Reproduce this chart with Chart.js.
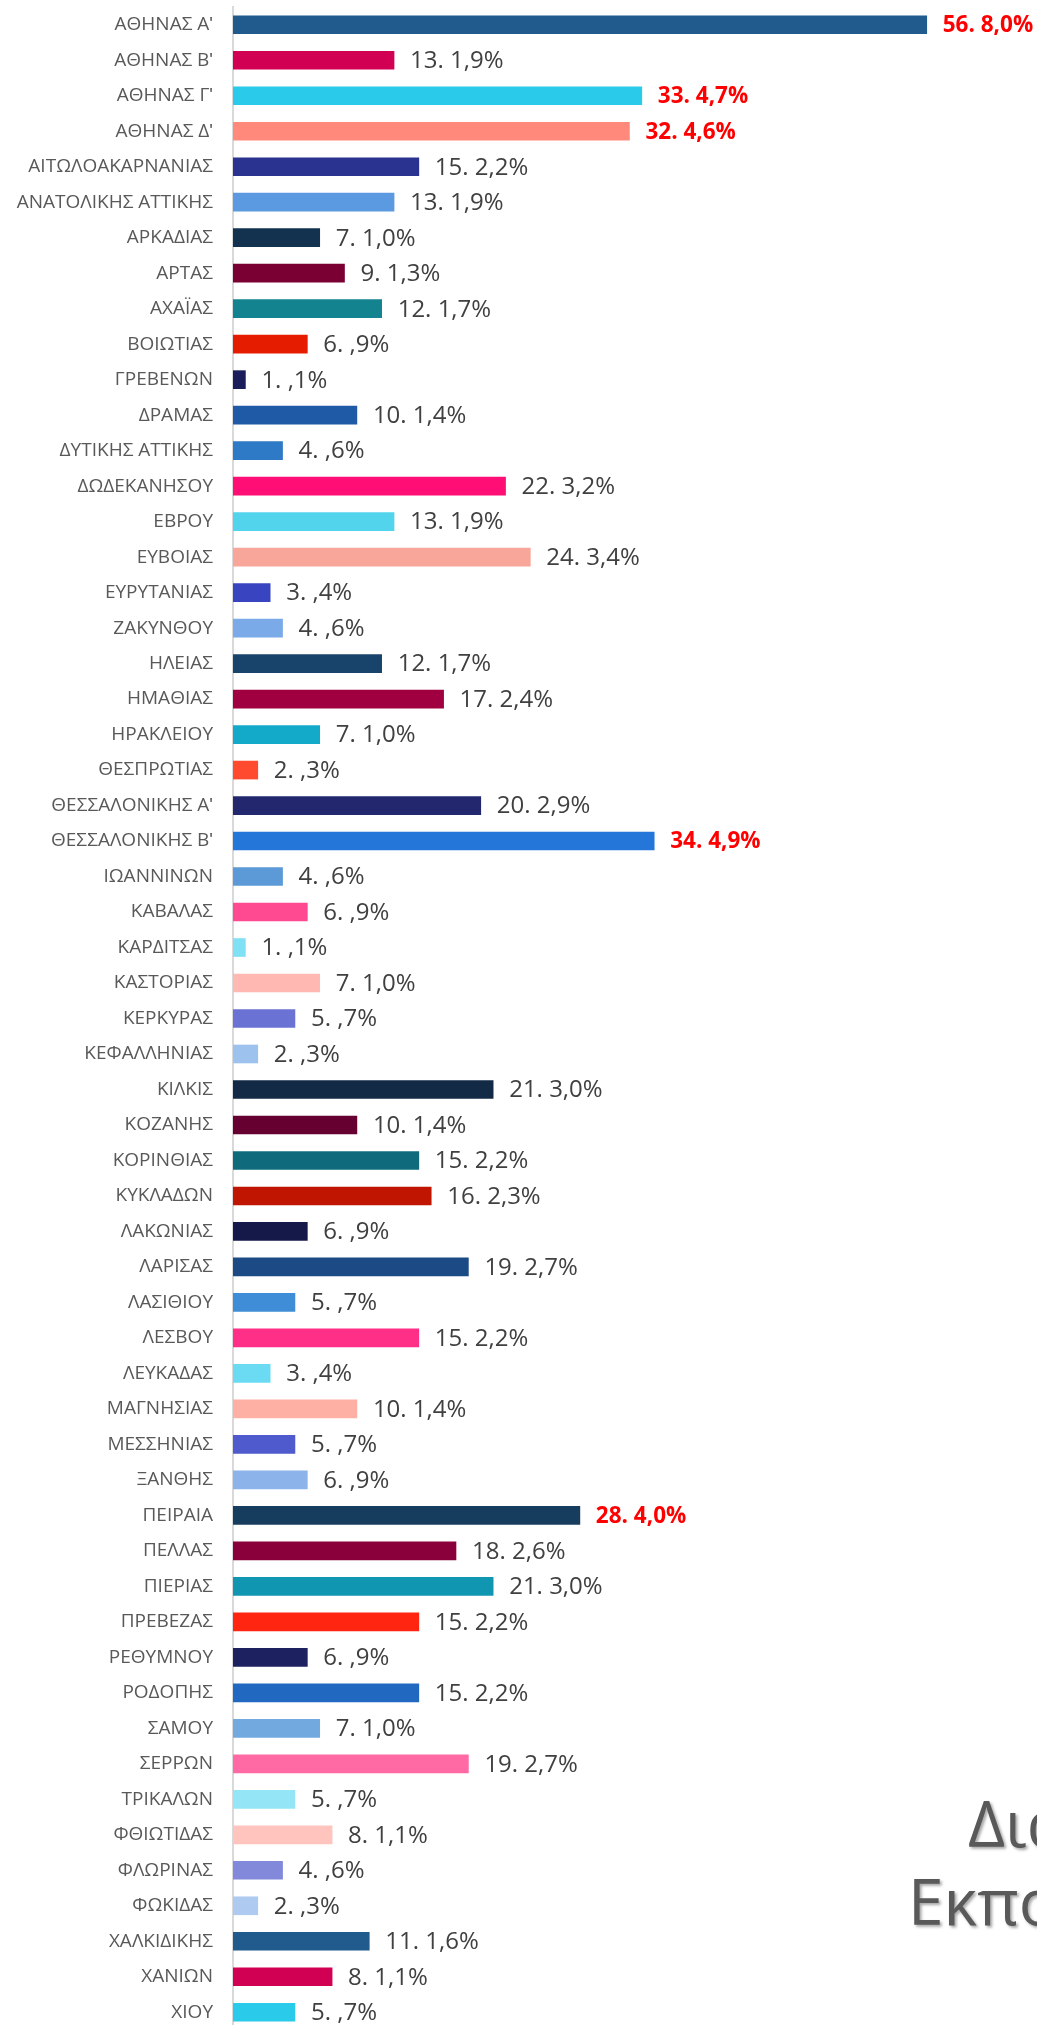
<!DOCTYPE html>
<html>
<head>
<meta charset="utf-8">
<script src="https://cdn.jsdelivr.net/npm/chart.js@4.4.1/dist/chart.umd.min.js"></script>
<style>
html,body{margin:0;padding:0;background:#fff;overflow:hidden;width:1037px;height:2025px;}
#wrap{position:relative;width:1037px;height:2030px;}
canvas{display:block;}
</style>
</head>
<body>
<div id="wrap"><canvas id="c" width="1037" height="2030"></canvas></div>
<script>
const categories = ["ΑΘΗΝΑΣ Αʹ","ΑΘΗΝΑΣ Βʹ","ΑΘΗΝΑΣ Γʹ","ΑΘΗΝΑΣ Δʹ","ΑΙΤΩΛΟΑΚΑΡΝΑΝΙΑΣ","ΑΝΑΤΟΛΙΚΗΣ ΑΤΤΙΚΗΣ","ΑΡΚΑΔΙΑΣ","ΑΡΤΑΣ","ΑΧΑΪΑΣ","ΒΟΙΩΤΙΑΣ","ΓΡΕΒΕΝΩΝ","ΔΡΑΜΑΣ","ΔΥΤΙΚΗΣ ΑΤΤΙΚΗΣ","ΔΩΔΕΚΑΝΗΣΟΥ","ΕΒΡΟΥ","ΕΥΒΟΙΑΣ","ΕΥΡΥΤΑΝΙΑΣ","ΖΑΚΥΝΘΟΥ","ΗΛΕΙΑΣ","ΗΜΑΘΙΑΣ","ΗΡΑΚΛΕΙΟΥ","ΘΕΣΠΡΩΤΙΑΣ","ΘΕΣΣΑΛΟΝΙΚΗΣ Αʹ","ΘΕΣΣΑΛΟΝΙΚΗΣ Βʹ","ΙΩΑΝΝΙΝΩΝ","ΚΑΒΑΛΑΣ","ΚΑΡΔΙΤΣΑΣ","ΚΑΣΤΟΡΙΑΣ","ΚΕΡΚΥΡΑΣ","ΚΕΦΑΛΛΗΝΙΑΣ","ΚΙΛΚΙΣ","ΚΟΖΑΝΗΣ","ΚΟΡΙΝΘΙΑΣ","ΚΥΚΛΑΔΩΝ","ΛΑΚΩΝΙΑΣ","ΛΑΡΙΣΑΣ","ΛΑΣΙΘΙΟΥ","ΛΕΣΒΟΥ","ΛΕΥΚΑΔΑΣ","ΜΑΓΝΗΣΙΑΣ","ΜΕΣΣΗΝΙΑΣ","ΞΑΝΘΗΣ","ΠΕΙΡΑΙΑ","ΠΕΛΛΑΣ","ΠΙΕΡΙΑΣ","ΠΡΕΒΕΖΑΣ","ΡΕΘΥΜΝΟΥ","ΡΟΔΟΠΗΣ","ΣΑΜΟΥ","ΣΕΡΡΩΝ","ΤΡΙΚΑΛΩΝ","ΦΘΙΩΤΙΔΑΣ","ΦΛΩΡΙΝΑΣ","ΦΩΚΙΔΑΣ","ΧΑΛΚΙΔΙΚΗΣ","ΧΑΝΙΩΝ","ΧΙΟΥ"];
const counts = [56,13,33,32,15,13,7,9,12,6,1,10,4,22,13,24,3,4,12,17,7,2,20,34,4,6,1,7,5,2,21,10,15,16,6,19,5,15,3,10,5,6,28,18,21,15,6,15,7,19,5,8,4,2,11,8,5];
const percents = ["8,0%","1,9%","4,7%","4,6%","2,2%","1,9%","1,0%","1,3%","1,7%",",9%",",1%","1,4%",",6%","3,2%","1,9%","3,4%",",4%",",6%","1,7%","2,4%","1,0%",",3%","2,9%","4,9%",",6%",",9%",",1%","1,0%",",7%",",3%","3,0%","1,4%","2,2%","2,3%",",9%","2,7%",",7%","2,2%",",4%","1,4%",",7%",",9%","4,0%","2,6%","3,0%","2,2%",",9%","2,2%","1,0%","2,7%",",7%","1,1%",",6%",",3%","1,6%","1,1%",",7%"];
const barColors = ["#215A8C","#D20052","#29CAEA","#FF8A7C","#2B3390","#5B99E0","#13324F","#7A0034","#12838F","#E61C00","#1A1D5A","#1F5AA6","#2E7AC6","#FF0F75","#52D5EC","#F9A69A","#3844C0","#7AAAE8","#18436B","#A0003F","#12AAC8","#FF4A30","#23286E","#2476D8","#5B9AD6","#FF4A92","#80E0F4","#FFB8B2","#6A72D4","#9EC2EE","#132A46","#650030","#0F6B7C","#C01500","#15194A","#1B4A85","#3E8DD6","#FF2E86","#6ADBF2","#FFB0A5","#4F5ACC","#8CB4EA","#173D5E","#8A003A","#1196B2","#FF2510","#1D2160","#2168C0","#72AAE0","#FF6AA4","#94E6F6","#FFC4BE","#8288DA","#AECAF0","#215A8C","#D20052","#29CAEA"];
const highlightThreshold = 28;
const titleLines = ["Δια","Εκπο"];

const valueLabels = {
  id: 'valueLabels',
  afterDatasetsDraw(chart) {
    const ctx = chart.ctx;
    const meta = chart.getDatasetMeta(0);
    ctx.save();
    ctx.textBaseline = 'middle';
    ctx.textAlign = 'left';
    meta.data.forEach((bar, i) => {
      const v = counts[i];
      const hi = v >= highlightThreshold;
      ctx.font = hi ? 'bold 22.5px "Open Sans", sans-serif' : '24px "Open Sans", sans-serif';
      ctx.fillStyle = hi ? '#FF0000' : '#404040';
      ctx.fillText(v + '. ' + percents[i], bar.x + 16, bar.y + 1);
    });
    ctx.restore();
  }
};

const titleText = {
  id: 'titleText',
  afterDraw(chart) {
    const ctx = chart.ctx;
    ctx.save();
    ctx.font = '64px "Open Sans", sans-serif';
    ctx.fillStyle = '#595959';
    ctx.shadowColor = 'rgba(0,0,0,0.35)';
    ctx.shadowOffsetX = 2;
    ctx.shadowOffsetY = 2;
    ctx.shadowBlur = 3;
    ctx.textBaseline = 'alphabetic';
    ctx.textAlign = 'left';
    ctx.fillText(titleLines[0], 968, 1847);
    ctx.fillText(titleLines[1], 908, 1925);
    ctx.restore();
  }
};

new Chart(document.getElementById('c'), {
  type: 'bar',
  data: {
    labels: categories,
    datasets: [{
      data: counts,
      backgroundColor: barColors,
      borderWidth: 0,
      barThickness: 18
    }]
  },
  options: {
    indexAxis: 'y',
    responsive: false,
    animation: false,
    devicePixelRatio: 1,
    layout: { padding: { top: 7, bottom: 0, left: 0, right: 0 } },
    plugins: { legend: { display: false }, tooltip: { enabled: false } },
    scales: {
      x: { display: false, min: 0, max: 64.9 },
      y: {
        afterFit(scale) { scale.width = 233; scale.paddingTop = 0; scale.paddingBottom = 0; },
        grid: { display: false, drawTicks: false },
        border: { display: true, color: '#D9D9D9', width: 2 },
        ticks: {
          autoSkip: false,
          padding: 20,
          color: '#595959',
          font: { family: '"Open Sans", sans-serif', size: 19 }
        }
      }
    }
  },
  plugins: [valueLabels, titleText]
});
</script>
</body>
</html>
